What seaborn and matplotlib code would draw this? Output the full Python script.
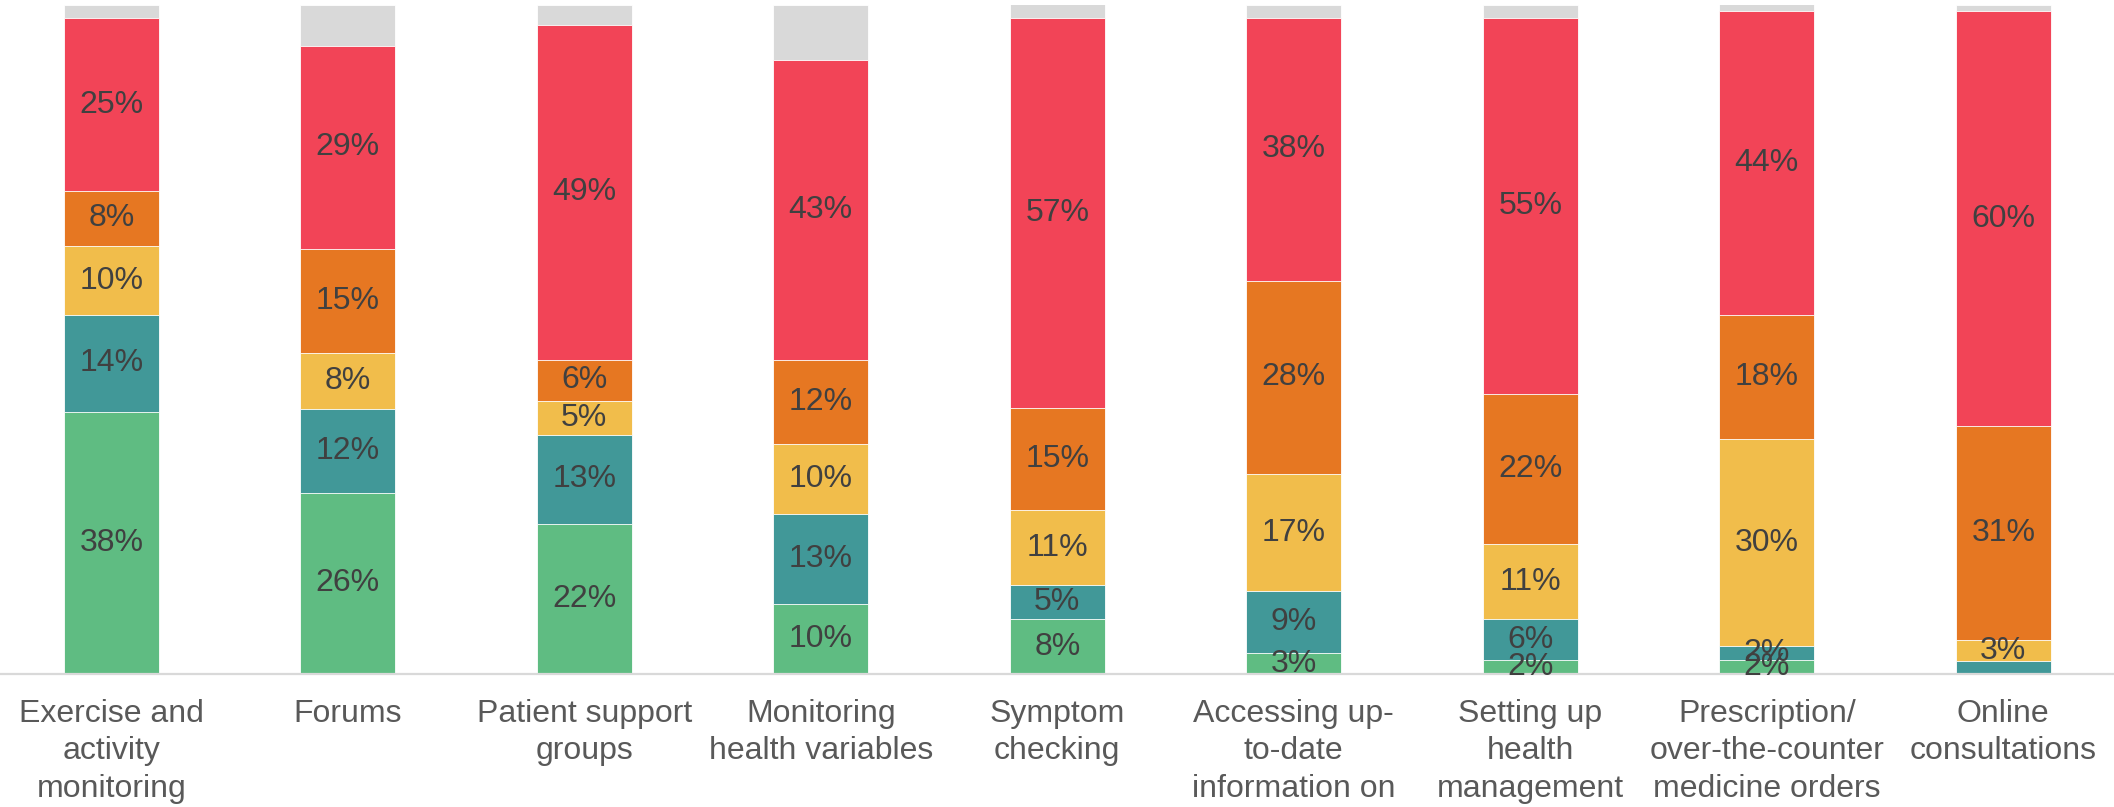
import numpy as np
import pandas as pd
import matplotlib
matplotlib.use("Agg")
import matplotlib.pyplot as plt
import seaborn as sns

categories = [
    "Exercise and\nactivity\nmonitoring",
    "Forums",
    "Patient support\ngroups",
    "Monitoring\nhealth variables",
    "Symptom\nchecking",
    "Accessing up-\nto-date\ninformation on",
    "Setting up\nhealth\nmanagement",
    "Prescription/\nover-the-counter\nmedicine orders",
    "Online\nconsultations",
]
green = [38, 26, 22, 10, 8, 3, 2, 2, 0]
teal = [14, 12, 13, 13, 5, 9, 6, 2, 1.9]
yellow = [10, 8, 5, 10, 11, 17, 11, 30, 3]
orange = [8, 15, 6, 12, 15, 28, 22, 18, 31]
red = [25, 29, 49, 43, 57, 38, 55, 44, 60]
gray = [2, 6, 3, 8, 2, 2, 2, 1, 1]

series = [green, teal, yellow, orange, red, gray]
colors = ["#5FBC82", "#419898", "#F1BD4B", "#E67722", "#F24457", "#D9D9D9"]
labelled = [True, True, True, True, True, False]

sns.set_theme(style="white")
plt.rcParams["font.family"] = ["Liberation Sans", "DejaVu Sans"]

vals = np.array(series, dtype=float)
totals = vals.sum(axis=0)
norm = vals / totals * 100.0
cum = np.cumsum(norm, axis=0)

fig = plt.figure(figsize=(21.14, 8.07), dpi=100)
ax = fig.add_axes([0.0, 1 - 674 / 807, 1.0, 669.5 / 807])

# Draw cumulative layers from top to bottom so each lower layer overlays the previous
for i in reversed(range(len(series))):
    df = pd.DataFrame({"cat": categories, "v": cum[i]})
    sns.barplot(data=df, x="cat", y="v", order=categories, color=colors[i],
                saturation=1, width=0.4, ax=ax, edgecolor="white",
                linewidth=0.6, errorbar=None)

# Data labels
for i in range(len(series)):
    if not labelled[i]:
        continue
    bottoms = cum[i] - norm[i]
    for j, v in enumerate(series[i]):
        if v >= 2:
            ax.text(j, bottoms[j] + norm[i][j] / 2, f"{v:.0f}%", ha="center",
                    va="center", fontsize=23, color="#404040")

ax.set_ylim(0, 100)
px0 = 111.3
step = 236.5
ax.set_xlim(-px0 / step, (2114 - px0) / step)
ax.set_xlabel("")
ax.set_ylabel("")
ax.set_yticks([])
ax.tick_params(axis="x", length=0, pad=18, labelsize=23, colors="#595959")
for lab in ax.get_xticklabels():
    lab.set_multialignment("center")
    lab.set_linespacing(1.32)
for s in ["top", "right", "left"]:
    ax.spines[s].set_visible(False)
ax.spines["bottom"].set_color("#D9D9D9")
ax.spines["bottom"].set_linewidth(1.6)
ax.set_facecolor("white")

fig.savefig("out.png", dpi=100, facecolor="white")
